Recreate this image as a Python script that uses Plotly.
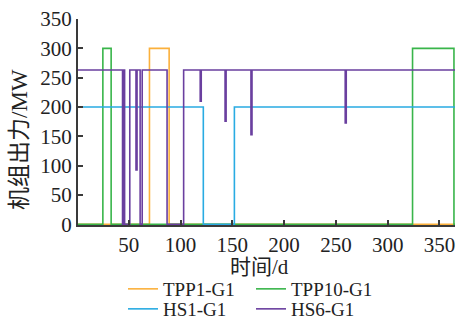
import plotly.graph_objects as go

# change points (day, value) with step ("hv") interpolation
tpp1_days = [1, 70, 89, 365]
tpp1_vals = [0, 300, 0, 0]

tpp10_days = [1, 25, 33, 324, 364, 365]
tpp10_vals = [0, 300, 0, 300, 0, 0]

hs1_days = [1, 122, 152, 365]
hs1_vals = [200, 0, 200, 200]

hs6_days = [1, 44, 45, 46, 51, 57, 58, 61, 63, 87, 103, 119, 120, 143, 144, 168, 169, 259, 260, 365]
hs6_vals = [263, 0, 263, 0, 263, 93, 263, 0, 263, 0, 263, 210, 263, 176, 263, 153, 263, 173, 263, 263]

x_ticks = [50, 100, 150, 200, 250, 300, 350]
y_ticks = [0, 50, 100, 150, 200, 250, 300, 350]

FONT = "Liberation Serif, Noto Sans CJK SC"
TXT = "#222222"
AX = "#3a3a3a"

series = [
    ("TPP1-G1", tpp1_days, tpp1_vals, "#FBB03B", "legend"),
    ("TPP10-G1", tpp10_days, tpp10_vals, "#39B54A", "legend"),
    ("HS1-G1", hs1_days, hs1_vals, "#29ABE2", "legend2"),
    ("HS6-G1", hs6_days, hs6_vals, "#6A3F9F", "legend2"),
]

fig = go.Figure()
for name, xs, ys, col, lg in series:
    fig.add_trace(go.Scatter(x=xs, y=ys, mode="lines", name=name,
                             line=dict(color=col, width=1.6, shape="hv"),
                             legend=lg))

legend_common = dict(orientation="h", xanchor="left", yanchor="middle",
                     entrywidth=83, font=dict(family=FONT, size=19, color=TXT),
                     bgcolor="rgba(0,0,0,0)", borderwidth=0,
                     itemwidth=30, tracegroupgap=0)

fig.update_layout(
    width=458, height=321,
    margin=dict(l=78, r=3, t=19, b=96, autoexpand=False),
    paper_bgcolor="white", plot_bgcolor="white",
    font=dict(family=FONT, size=21, color=TXT),
    showlegend=True,
    legend=dict(x=(123 - 78) / 377, y=-(289 - 225) / 206, **legend_common),
    legend2=dict(x=(123 - 78) / 377, y=-(309 - 225) / 206, **legend_common),
    xaxis=dict(range=[1, 365], tickvals=x_ticks, ticks="inside", ticklen=5,
               tickwidth=1.5, tickcolor=AX, showline=True, linecolor=AX,
               linewidth=2, showgrid=False, zeroline=False, automargin=False,
               tickfont=dict(family=FONT, size=21, color=TXT)),
    yaxis=dict(range=[-1, 350], tickvals=y_ticks, ticks="inside", ticklen=5,
               tickwidth=1.5, tickcolor=AX, showline=True, linecolor=AX,
               linewidth=2, showgrid=False, zeroline=False, automargin=False,
               tickfont=dict(family=FONT, size=21, color=TXT)),
    annotations=[
        dict(text="时间/d", xref="paper", yref="paper",
             x=(259 - 78) / 377, y=-(267 - 225) / 206,
             xanchor="center", yanchor="middle", showarrow=False,
             font=dict(family=FONT, size=21, color=TXT)),
        dict(text="机组出力/MW", xref="paper", yref="paper",
             x=-(78 - 19) / 377, y=(225 - 140) / 206, textangle=-90,
             xanchor="center", yanchor="middle", showarrow=False,
             font=dict(family=FONT, size=23, color=TXT)),
    ],
)

fig.write_html("out.html", config={"displayModeBar": False},
               post_script="document.body.style.margin='0';document.body.style.overflow='hidden';")
